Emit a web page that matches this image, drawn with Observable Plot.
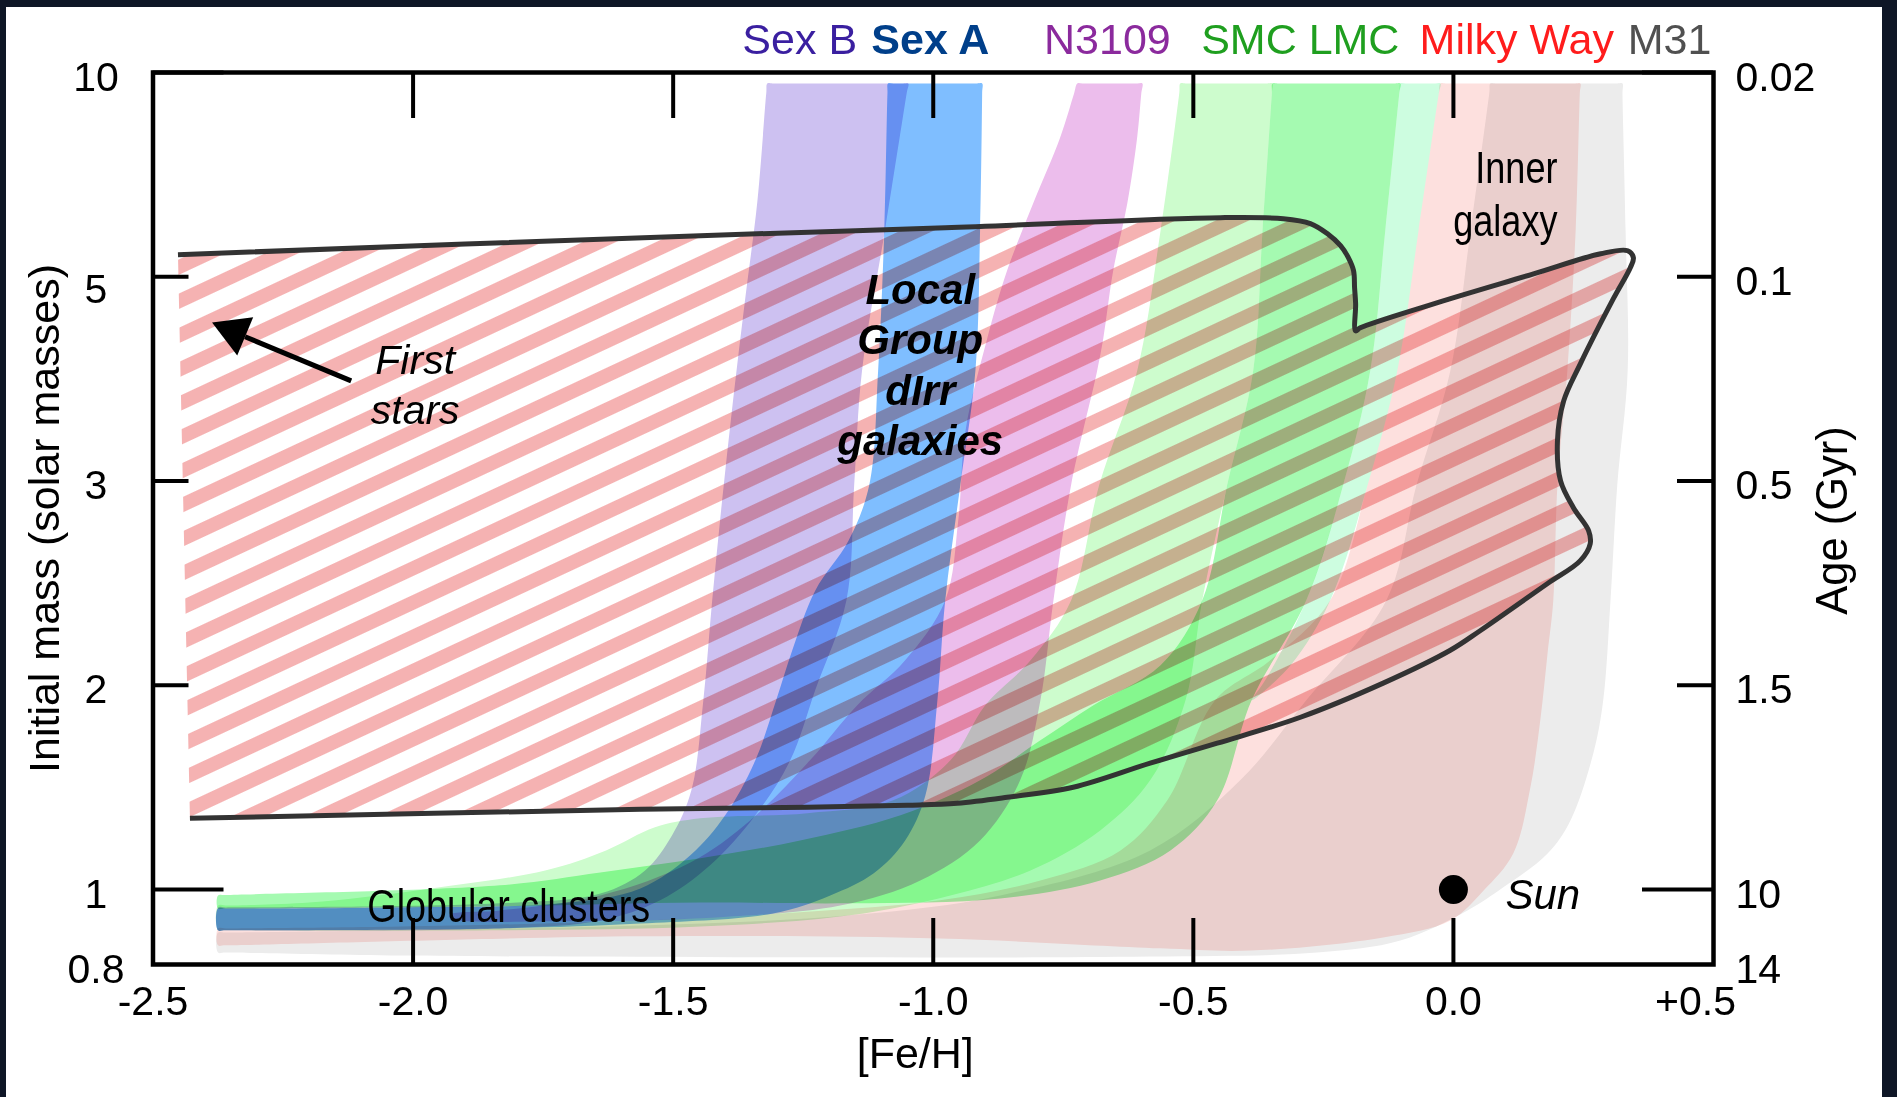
<!DOCTYPE html>
<html>
<head>
<meta charset="utf-8">
<script src="https://cdn.jsdelivr.net/npm/d3@7"></script>
<script src="https://cdn.jsdelivr.net/npm/@observablehq/plot@0.6"></script>
<style>
html, body { margin: 0; padding: 0; width: 1897px; height: 1097px; overflow: hidden; background: #0e1626; }
#panel { position: absolute; left: 6px; top: 7px; width: 1876px; height: 1090px; background: #ffffff; }
#chart { position: absolute; left: 0; top: 0; }
</style>
</head>
<body>
<div id="panel"></div>
<div id="chart"></div>
<script>
// ---------------- data ----------------
const xTicks = [-2.5, -2.0, -1.5, -1.0, -0.5, 0.0, 0.5];
const xTickLabels = ["-2.5", "-2.0", "-1.5", "-1.0", "-0.5", "0.0", "+0.5"];
const massTicks = [0.8, 1, 2, 3, 5, 10];
const massTickLabels = ["0.8", "1", "2", "3", "5", "10"];
const ageTickLabels = ["14", "10", "1.5", "0.5", "0.1", "0.02"];

const galaxyNames = ["Sex B", "Sex A", "N3109", "SMC LMC", "Milky Way", "M31"];
const galaxyLabelFeH = [-1.367, -1.119, -0.787, -0.485, -0.065, 0.335];

// band outlines: [Fe/H, initial mass]
const sexB = [[-1.319, 9.73], [-1.321, 9.5], [-1.338, 6.86], [-1.362, 4.765], [-1.385, 3.784], [-1.406, 2.902], [-1.425, 2.415], [-1.442, 1.926], [-1.465, 1.485], [-1.502, 1.265], [-1.554, 1.093], [-1.640, 0.989], [-1.833, 0.963], [-2.36, 0.952], [-2.375, 0.952],
  [-2.375, 0.891], [-2.36, 0.891], [-1.833, 0.896], [-1.640, 0.917], [-1.525, 0.971], [-1.429, 1.118], [-1.342, 1.363], [-1.275, 1.632], [-1.227, 1.975], [-1.167, 2.415], [-1.152, 2.98], [-1.137, 4.078], [-1.092, 6.20], [-1.051, 9.5], [-1.048, 9.73], [-1.058, 9.73], [-1.183, 9.73], [-1.309, 9.73]];

const sexA = [[-1.087, 9.73], [-1.088, 9.5], [-1.094, 6.20], [-1.106, 4.078], [-1.123, 2.98], [-1.163, 2.707], [-1.227, 2.463], [-1.271, 2.171], [-1.302, 1.926], [-1.342, 1.632], [-1.400, 1.363], [-1.467, 1.167], [-1.563, 1.005], [-1.717, 0.963], [-2.025, 0.952], [-2.36, 0.949], [-2.375, 0.949],
  [-2.375, 0.891], [-2.36, 0.891], [-1.833, 0.896], [-1.563, 0.909], [-1.308, 0.936], [-1.198, 0.984], [-1.115, 1.078], [-1.054, 1.240], [-1.015, 1.461], [-0.992, 1.926], [-0.977, 2.415], [-0.948, 2.98], [-0.919, 4.078], [-0.910, 6.13], [-0.906, 9.5], [-0.906, 9.73], [-0.916, 9.73], [-0.996, 9.73], [-1.077, 9.73]];

const n3109 = [[-0.723, 9.73], [-0.729, 9.5], [-0.756, 8.41], [-0.808, 6.79], [-0.858, 5.15], [-0.896, 4.40], [-0.938, 3.49], [-0.952, 2.805], [-0.977, 2.415], [-1.054, 2.122], [-1.146, 1.902], [-1.237, 1.632], [-1.352, 1.338], [-1.467, 1.132], [-1.640, 0.984], [-1.833, 0.944], [-1.929, 0.933],
  [-1.929, 0.923], [-1.717, 0.915], [-1.448, 0.923], [-1.179, 0.957], [-1.025, 1.044], [-0.910, 1.240], [-0.833, 1.534], [-0.794, 1.926], [-0.769, 2.415], [-0.735, 2.98], [-0.685, 4.078], [-0.673, 4.40], [-0.654, 5.15], [-0.627, 6.79], [-0.608, 8.41], [-0.600, 9.5], [-0.598, 9.73], [-0.608, 9.73], [-0.660, 9.73], [-0.713, 9.73]];

const smc = [[-0.525, 9.73], [-0.527, 9.5], [-0.563, 6.13], [-0.608, 4.078], [-0.681, 2.98], [-0.735, 2.415], [-0.813, 2.122], [-0.900, 1.902], [-0.967, 1.632], [-1.077, 1.436], [-1.242, 1.373], [-1.448, 1.348], [-1.535, 1.304], [-1.629, 1.191], [-1.746, 1.093], [-1.979, 1.0], [-2.2, 0.965], [-2.36, 0.957], [-2.375, 0.957],
  [-2.375, 0.891], [-2.36, 0.891], [-1.833, 0.891], [-1.448, 0.901], [-1.160, 0.931], [-0.967, 0.984], [-0.813, 1.093], [-0.679, 1.289], [-0.583, 1.534], [-0.515, 1.926], [-0.483, 2.415], [-0.435, 2.98], [-0.385, 4.078], [-0.367, 6.13], [-0.349, 9.5], [-0.348, 9.73], [-0.358, 9.73], [-0.438, 9.73], [-0.515, 9.73]];

const lmc = [[-0.348, 9.73], [-0.349, 9.5], [-0.367, 6.13], [-0.385, 4.078], [-0.435, 2.98], [-0.483, 2.415], [-0.563, 2.098], [-0.692, 1.902], [-0.794, 1.730], [-0.910, 1.534], [-1.063, 1.363], [-1.256, 1.240], [-1.448, 1.152], [-1.640, 1.083], [-1.833, 1.02], [-2.36, 0.985], [-2.375, 0.984],
  [-2.375, 0.949], [-2.36, 0.949], [-1.833, 0.955], [-1.448, 0.965], [-1.160, 0.963], [-0.871, 0.976], [-0.679, 1.044], [-0.544, 1.191], [-0.454, 1.436], [-0.388, 1.926], [-0.283, 2.415], [-0.212, 2.98], [-0.160, 4.078], [-0.131, 6.13], [-0.104, 9.5], [-0.102, 9.73], [-0.112, 9.73], [-0.225, 9.73], [-0.338, 9.73]];

const lmcEdge = [[-0.102, 9.73], [-0.104, 9.5], [-0.131, 6.13], [-0.160, 4.078], [-0.212, 2.98], [-0.283, 2.415], [-0.362, 2.024], [-0.388, 1.926],
  [-0.313, 2.098], [-0.237, 2.415], [-0.165, 2.98], [-0.108, 4.078], [-0.067, 6.13], [-0.028, 9.5], [-0.025, 9.73], [-0.035, 9.73], [-0.063, 9.73], [-0.092, 9.73]];

const milkyWay = [[-0.025, 9.73], [-0.028, 9.5], [-0.067, 6.13], [-0.108, 4.078], [-0.165, 2.98], [-0.237, 2.415], [-0.352, 2.122], [-0.458, 1.926], [-0.550, 1.436], [-0.640, 1.191], [-0.794, 1.044], [-0.987, 0.971], [-1.256, 0.939], [-1.563, 0.917], [-2.025, 0.901], [-2.36, 0.896], [-2.375, 0.896],
  [-2.375, 0.851], [-2.36, 0.851], [-1.563, 0.875], [-0.987, 0.869], [-0.563, 0.843], [-0.390, 0.837], [-0.135, 0.872], [-0.006, 0.917], [0.058, 0.997], [0.115, 1.176], [0.148, 1.500], [0.167, 1.828], [0.181, 2.156], [0.192, 2.415], [0.200, 2.98], [0.219, 4.078], [0.235, 6.13], [0.243, 9.5], [0.244, 9.73], [0.234, 9.73], [0.110, 9.73], [-0.015, 9.73]];

const m31 = [[0.071, 9.73], [0.069, 9.5], [0.033, 6.13], [-0.006, 4.078], [-0.071, 2.98], [-0.129, 2.415], [-0.283, 1.926], [-0.410, 1.534], [-0.583, 1.191], [-0.871, 0.984], [-1.160, 0.931], [-1.563, 0.904], [-2.025, 0.891], [-2.36, 0.885], [-2.375, 0.885],
  [-2.375, 0.832], [-2.36, 0.832], [-2.025, 0.824], [-1.256, 0.819], [-0.583, 0.821], [-0.262, 0.832], [-0.102, 0.864], [0.027, 0.944], [0.096, 1.010], [0.181, 1.176], [0.225, 1.338], [0.269, 1.667], [0.288, 1.926], [0.302, 2.415], [0.315, 2.98], [0.335, 4.078], [0.331, 6.13], [0.325, 9.5], [0.325, 9.73], [0.315, 9.73], [0.198, 9.73], [0.081, 9.73]];

// "First stars" region outline
const firstStars = [[-2.452, 5.54], [-1.448, 6.005], [-0.977, 6.20], [-0.448, 6.446], [-0.327, 6.42], [-0.275, 6.30], [-0.242, 6.05], [-0.217, 5.76], [-0.202, 5.47], [-0.192, 5.15], [-0.190, 4.89], [-0.188, 4.735], [-0.188, 4.47], [-0.179, 4.50], [-0.038, 4.735], [0.154, 5.07], [0.283, 5.564], [0.335, 5.637], [0.346, 5.466], [0.340, 5.22], [0.308, 4.79], [0.244, 4.147], [0.212, 3.784], [0.200, 3.392], [0.206, 3.0], [0.231, 2.868], [0.260, 2.756], [0.263, 2.693], [0.244, 2.610], [0.181, 2.498], [0.052, 2.268], [-0.006, 2.171], [-0.135, 2.01], [-0.294, 1.843], [-0.454, 1.716], [-0.583, 1.618], [-0.731, 1.50], [-0.858, 1.451], [-0.954, 1.422], [-1.050, 1.412], [-1.242, 1.402], [-1.563, 1.392], [-2.429, 1.348]];

const sun = [{feh: 0.0, mass: 1.0}];
const arrow = [{x1: -2.119, y1: 3.98, x2: -2.323, y2: 4.412}];
const arrowHead = [{feh: -2.344, mass: 4.461}];
const labelLocal = [{feh: -1.025, mass: 3.255, text: "Local\nGroup\ndIrr\ngalaxies"}];
const labelFirst = [{feh: -1.996, mass: 3.559, text: "First\nstars"}];
const labelInner = [{feh: 0.200, mass: 6.005, text: "Inner\ngalaxy"}];
const labelGlob = [{feh: -2.088, mass: 0.912, text: "Globular clusters"}];
const labelSun = [{feh: 0.100, mass: 0.949, text: "Sun"}];

// ---------------- chart ----------------
const W = 1897, H = 1097;
const L = 152.5, R = 1713, T = 72, B = 964;
const FW = R - L, FH = B - T;
const SANS = "'Liberation Sans', Arial, Helvetica, sans-serif";

// the mass axis is drawn with equal steps between 1, 2, 3, 5 and 10 (0.8 sits a short step below 1)
const massStep = d3.scaleLinear().domain(massTicks).range([-75 / 204, 0, 1, 2, 3, 4]);
const massTickPos = massTicks.map(massStep);
const leftMain = massTickPos.filter((d, i) => massTicks[i] !== 5);
const leftFive = massTickPos.filter((d, i) => massTicks[i] === 5);

const band = (pts, fill) => Plot.line(pts, {
  x: d => d[0], y: d => d[1], fill, stroke: "none",
  curve: "catmull-rom-closed", mixBlendMode: "multiply"
});

const inner = [-2.0, -1.5, -1.0, -0.5, 0.0];
const longY = [10, 1], shortY = [5, 3, 2];

const topLabel = (i, fill, extra = {}) => Plot.text([galaxyNames[i]], {
  x: () => galaxyLabelFeH[i], frameAnchor: "top", dy: -19, lineAnchor: "bottom",
  textAnchor: "start", fill, fontSize: 43, fontFamily: SANS, ...extra
});

const leftAxis = (ticks, dy) => Plot.axisY({anchor: "left", ticks, tickSize: 0, tickPadding: 57, textAnchor: "middle", dy,
  tickFormat: d => massTickLabels[massTickPos.indexOf(d)], fontSize: 41, label: null, fontVariant: "normal"});

const chart = Plot.plot({
  width: W, height: H,
  marginLeft: L, marginRight: W - R, marginTop: T, marginBottom: H - B,
  style: {background: "transparent", fontFamily: SANS, fontSize: "41px", color: "black"},
  x: {domain: [-2.5, 0.5]},
  y: {transform: massStep, domain: [massStep(0.8), massStep(10)]},
  marks: [
    band(m31, "#ececec"),
    band(milkyWay, "#fde0de"),
    band(lmcEdge, "#cdfde0"),
    band(lmc, "#a5fab1"),
    band(smc, "#cdfccd"),
    band(n3109, "#ecbdec"),
    band(sexA, "#7fbeff"),
    band(sexB, "#cdc1f1"),
    // hatched first-stars region
    Plot.line(firstStars, {x: d => d[0], y: d => d[1], fill: "url(#hatch)", stroke: "none",
      curve: "linear-closed", mixBlendMode: "multiply"}),
    Plot.line(firstStars, {x: d => d[0], y: d => d[1], stroke: "#333333", strokeWidth: 5,
      curve: "catmull-rom", strokeLinecap: "butt"}),
    // frame & ticks
    Plot.frame({stroke: "black", strokeWidth: 4.5}),
    Plot.tickY(longY, {insetRight: FW - 71, stroke: "black", strokeWidth: 4}),
    Plot.tickY(shortY, {insetRight: FW - 36, stroke: "black", strokeWidth: 4}),
    Plot.tickY(longY, {insetLeft: FW - 71, stroke: "black", strokeWidth: 4}),
    Plot.tickY(shortY, {insetLeft: FW - 36, stroke: "black", strokeWidth: 4}),
    Plot.tickX(inner, {insetBottom: FH - 46, stroke: "black", strokeWidth: 4}),
    Plot.tickX(inner, {insetTop: FH - 46, stroke: "black", strokeWidth: 4}),
    // axes labels
    Plot.axisX({anchor: "bottom", ticks: xTicks.slice(0, 6), tickSize: 0, tickPadding: 21,
      tickFormat: d => xTickLabels[xTicks.indexOf(d)], fontSize: 41, label: null, fontVariant: "normal"}),
    Plot.axisX({anchor: "bottom", ticks: [0.5], tickSize: 0, tickPadding: 21, dx: -18,
      tickFormat: d => xTickLabels[xTicks.indexOf(d)], fontSize: 41, label: null, fontVariant: "normal"}),
    leftAxis(leftMain, 5),
    leftAxis(leftFive, 13),
    Plot.axisY({anchor: "right", ticks: massTickPos, tickSize: 0, tickPadding: 22, dy: 5,
      tickFormat: d => ageTickLabels[massTickPos.indexOf(d)], fontSize: 41, label: null, fontVariant: "normal"}),
    Plot.text(["Initial mass (solar masses)"], {frameAnchor: "left", rotate: -90, dx: -94.5, textAnchor: "middle", lineAnchor: "bottom", fontSize: 43}),
    Plot.text(["Age (Gyr)"], {frameAnchor: "right", rotate: -90, dx: 133, dy: 2, textAnchor: "middle", lineAnchor: "bottom", fontSize: 43.5}),
    Plot.text(["[Fe/H]"], {frameAnchor: "bottom", dx: -18, dy: 103, textAnchor: "middle", lineAnchor: "bottom", fontSize: 43}),
    // galaxy names
    topLabel(0, "#3a1fa0"),
    topLabel(1, "#003f8a", {fontWeight: "bold"}),
    topLabel(2, "#8b2a9d"),
    topLabel(3, "#1f9f1f"),
    topLabel(4, "#ff1c1c"),
    topLabel(5, "#505050"),
    // annotations
    Plot.text(labelLocal, {x: "feh", y: "mass", text: "text", lineAnchor: "bottom", lineHeight: 1.2,
      fontSize: 42, fontWeight: "bold", fontStyle: "italic", fill: "black"}),
    Plot.text(labelFirst, {x: "feh", y: "mass", text: "text", lineAnchor: "bottom", lineHeight: 1.22,
      fontSize: 41, fontStyle: "italic", fill: "black"}),
    Plot.text(labelInner, {x: "feh", y: "mass", text: "text", lineAnchor: "bottom", lineHeight: 1.2,
      textAnchor: "end", fontSize: 44, fill: "black"}),
    Plot.text(labelGlob, {x: "feh", y: "mass", text: "text", lineAnchor: "bottom",
      textAnchor: "start", fontSize: 46, fill: "black"}),
    Plot.text(labelSun, {x: "feh", y: "mass", text: "text", lineAnchor: "bottom",
      textAnchor: "start", fontSize: 42, fontStyle: "italic", fill: "black"}),
    Plot.link(arrow, {x1: "x1", y1: "y1", x2: "x2", y2: "y2", stroke: "black", strokeWidth: 5}),
    Plot.dot(arrowHead, {x: "feh", y: "mass", symbol: "triangle", r: 15.4, rotate: -67.4, fill: "black", stroke: "none"}),
    Plot.dot(sun, {x: "feh", y: "mass", r: 14.5, fill: "black", stroke: "none"})
  ]
});

// hatch pattern used by the first-stars region
const defs = d3.select(chart).insert("defs", ":first-child");
const pat = defs.append("pattern")
  .attr("id", "hatch")
  .attr("patternUnits", "userSpaceOnUse")
  .attr("width", 40).attr("height", 31)
  .attr("patternTransform", "rotate(-25)");
pat.append("rect").attr("x", 0).attr("y", 0).attr("width", 40).attr("height", 14).attr("fill", "#f5b2b2");

// condensed lettering (as in the original) for two labels
const narrowTexts = new Set(["Globular clusters", "Innergalaxy"]);
d3.select(chart).selectAll("text").filter(function () {
  return narrowTexts.has(this.textContent);
}).each(function () {
  const t = this.getAttribute("transform") || "";
  this.setAttribute("transform", t + " scale(0.82,1)");
});

document.getElementById("chart").appendChild(chart);
</script>
</body>
</html>
